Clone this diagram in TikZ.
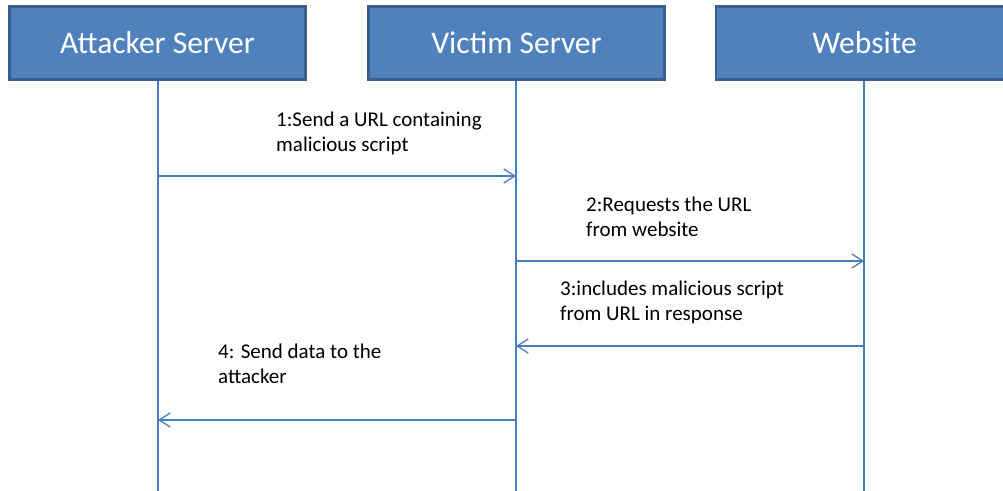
\documentclass[tikz,border=0pt]{standalone}
\usepackage{fontspec}
\setmainfont{Carlito}
\usetikzlibrary{arrows.meta}
\definecolor{boxfill}{HTML}{4F81BD}
\definecolor{boxedge}{HTML}{3A5F8C}
\definecolor{wire}{HTML}{4A7EBB}
\begin{document}
\begin{tikzpicture}[x=1pt,y=-1pt,
  actor/.style={draw=boxedge,line width=2.2pt,fill=boxfill,text=white,
    minimum width=296pt,minimum height=73pt,inner sep=0pt,
    font=\fontsize{31.5}{36}\selectfont},
  lifeline/.style={draw=wire,line width=1.3pt},
  msg/.style={draw=wire,line width=1.3pt,
    -{Straight Barb[length=11pt,width=14pt,line width=1.3pt]}},
  note/.style={anchor=north west,inner sep=0pt,align=left,
    font=\fontsize{21}{25}\selectfont,text=black}]
  \useasboundingbox (0,0) rectangle (1003,490);
  \clip (0,0) rectangle (1003,490);
  \fill[white] (0,0) rectangle (1003,490);

  % participants
  \node[actor] (att) at (157.5,43) {Attacker Server};
  \node[actor] (vic) at (516.5,43) {Victim Server};
  \node[actor,minimum width=320pt] (web) at (876,43) {\hspace*{-23pt}Website};

  % lifeline ends
  \coordinate (attEnd) at (158,492);
  \coordinate (vicEnd) at (516,492);
  \coordinate (webEnd) at (864,492);
  \draw[lifeline] (att.south -| attEnd) -- (attEnd);
  \draw[lifeline] (vic.south -| vicEnd) -- (vicEnd);
  \draw[lifeline] (web.south -| webEnd) -- (webEnd);

  % message points on the lifelines
  \coordinate (a1) at (158,176);  \coordinate (v1) at (516,176);
  \coordinate (v2) at (516,261);  \coordinate (w2) at (864,261);
  \coordinate (w3) at (864,346);  \coordinate (v3) at (516,346);
  \coordinate (v4) at (516,420);  \coordinate (a4) at (158,420);

  \draw[msg] (a1) -- (v1);
  \draw[msg] (v2) -- (w2);
  \draw[msg] (w3) -- (v3);
  \draw[msg] (v4) -- (a4);

  % message labels
  \node[note] (m1) at (276,112) {1:Send a URL containing\\malicious script};
  \node[note] (m2) at (586,197) {2:Requests the URL\\from website};
  \node[note] (m3) at (560,281) {3:includes malicious script\\from URL in response};
  \node[note] (m4) at (218,344) {4: Send data to the\\attacker};
\end{tikzpicture}
\end{document}
